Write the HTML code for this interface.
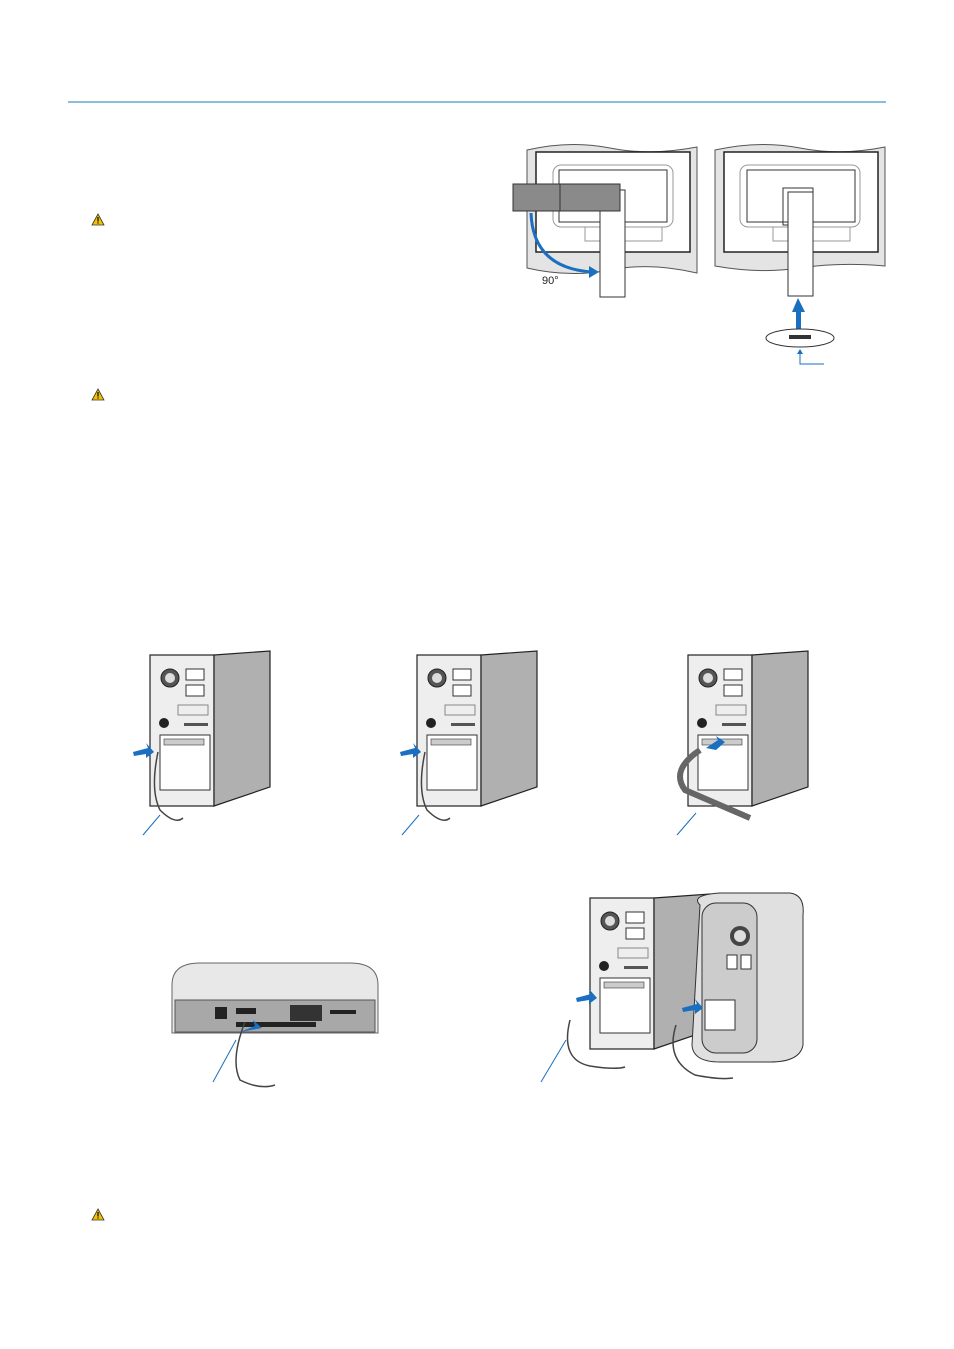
<!DOCTYPE html>
<html><head><meta charset="utf-8"><style>
html,body{margin:0;padding:0;background:#fff;}
body{width:954px;height:1349px;position:relative;overflow:hidden;font-family:"Liberation Sans",sans-serif;}
svg{position:absolute;left:0;top:0;}
</style></head><body>
<svg width="954" height="1349" viewBox="0 0 954 1349" xmlns="http://www.w3.org/2000/svg">
<defs>
<g id="warn"><path d="M0,-6 L6,5 L-6,5 Z" fill="#f2c200" stroke="#333" stroke-width="0.8"/><rect x="-0.6" y="-3" width="1.2" height="4.5" fill="#000"/><rect x="-0.6" y="2.3" width="1.2" height="1.2" fill="#000"/></g>
<g id="tower">
<rect x="0" y="0" width="64" height="151" fill="#eee" stroke="#222" stroke-width="1.2"/>
<path d="M64,0 L120,-4 L120,132 L64,151 Z" fill="#b0b0b0" stroke="#222" stroke-width="1.2"/>
<circle cx="20" cy="23" r="9" fill="#555" stroke="#222"/><circle cx="20" cy="23" r="5" fill="#ddd"/>
<rect x="36" y="14" width="18" height="11" fill="#fff" stroke="#333"/><rect x="36" y="30" width="18" height="11" fill="#fff" stroke="#333"/>
<rect x="28" y="50" width="30" height="10" fill="none" stroke="#888"/>
<circle cx="14" cy="68" r="5" fill="#222"/>
<rect x="34" y="68" width="24" height="3" fill="#555"/>
<rect x="10" y="80" width="50" height="55" fill="#fff" stroke="#333"/>
<rect x="14" y="84" width="40" height="6" fill="#ccc" stroke="#333" stroke-width="0.6"/>
</g>
</defs>
<line x1="68" y1="102" x2="886" y2="102" stroke="#1a7ac0" stroke-width="1"/>
<use href="#warn" x="98" y="220"/><use href="#warn" x="98" y="395"/><use href="#warn" x="98" y="1215"/>

<!-- monitor 1 -->
<path d="M527,150 Q570,140 610,148 T697,147 L697,273 Q650,262 610,270 T527,268 Z" fill="#e4e4e4" stroke="#555"/>
<rect x="536" y="152" width="154" height="100" fill="#fff" stroke="#222" stroke-width="1.5"/>
<rect x="553" y="165" width="120" height="62" rx="8" fill="none" stroke="#999"/>
<rect x="559" y="170" width="108" height="52" fill="none" stroke="#333"/>
<rect x="585" y="227" width="77" height="14" fill="none" stroke="#999"/>
<rect x="600" y="190" width="25" height="107" fill="#fff" stroke="#333"/>
<rect x="513" y="184" width="107" height="27" fill="#8a8a8a" stroke="#333"/>
<line x1="560" y1="184" x2="560" y2="211" stroke="#333"/>
<path d="M531,213 Q533,268 592,272" fill="none" stroke="#1a6fc0" stroke-width="3"/>
<path d="M599,272 L589,266 L589,278 Z" fill="#1a6fc0"/>
<text x="542" y="284" font-size="11" fill="#222">90°</text>
<!-- monitor 2 -->
<path d="M715,150 Q760,140 800,148 T885,147 L885,266 Q840,262 800,268 T715,266 Z" fill="#e4e4e4" stroke="#555"/>
<rect x="724" y="152" width="154" height="100" fill="#fff" stroke="#222" stroke-width="1.5"/>
<rect x="740" y="165" width="120" height="62" rx="8" fill="none" stroke="#999"/>
<rect x="747" y="170" width="108" height="52" fill="none" stroke="#333"/>
<rect x="773" y="227" width="77" height="14" fill="none" stroke="#999"/>
<rect x="783" y="188" width="30" height="37" fill="none" stroke="#333"/>
<rect x="788" y="192" width="25" height="104" fill="#fff" stroke="#333"/>
<rect x="796" y="310" width="5" height="30" fill="#1a6fc0"/><path d="M798,298 L792,312 L805,312 Z" fill="#1a6fc0"/>
<ellipse cx="800" cy="338" rx="34" ry="9" fill="#fff" stroke="#333"/>
<rect x="789" y="335" width="22" height="4" fill="#333"/>
<path d="M800,350 L800,364 L824,364" fill="none" stroke="#1a6fc0"/>
<path d="M800,349 L797,354 L803,354 Z" fill="#1a6fc0"/>

<!-- towers -->
<use href="#tower" x="150" y="655"/>
<use href="#tower" x="417" y="655"/>
<use href="#tower" x="688" y="655"/>
<g fill="none" stroke="#444" stroke-width="1.5">
<path d="M158,752 Q150,790 160,810 Q175,825 183,818"/>
<path d="M425,752 Q417,790 427,810 Q442,825 450,818"/>
<path d="M700,750 Q670,770 685,790 Q720,805 750,818" stroke-width="6" stroke="#666"/>
</g>
<g fill="#1a6fc0"><path d="M133,752 L148,748 L146,743 L154,752 L146,758 L146,754 L134,756 Z"/><path d="M400,752 L415,748 L413,743 L421,752 L413,758 L413,754 L401,756 Z"/><path d="M706,748 L718,740 L716,736 L725,742 L716,750 Z"/></g>
<g stroke="#1a6fc0" stroke-width="1"><line x1="143" y1="835" x2="160" y2="815"/><line x1="402" y1="835" x2="419" y2="815"/><line x1="677" y1="835" x2="696" y2="813"/><line x1="213" y1="1082" x2="236" y2="1040"/><line x1="541" y1="1082" x2="566" y2="1040"/></g>

<!-- mac mini -->
<path d="M172,985 Q172,963 200,963 L350,963 Q378,963 378,985 L378,1033 L172,1033 Z" fill="#e8e8e8" stroke="#666"/>
<rect x="175" y="1000" width="200" height="32" fill="#a8a8a8" stroke="#555"/>
<rect x="215" y="1007" width="12" height="12" fill="#222"/>
<rect x="236" y="1008" width="20" height="6" fill="#222"/><rect x="290" y="1005" width="32" height="16" fill="#333"/>
<rect x="330" y="1010" width="26" height="4" fill="#222"/>
<rect x="236" y="1022" width="80" height="5" fill="#222"/>
<path d="M245,1022 Q230,1060 240,1080 Q260,1090 275,1085" fill="none" stroke="#444" stroke-width="1.5"/>
<path d="M240,1032 L255,1026 L253,1020 L262,1028 Z" fill="#1a6fc0"/>

<!-- bottom right -->
<use href="#tower" x="590" y="898"/>
<path d="M700,905 Q690,895 720,893 L790,893 Q805,895 803,915 L803,1045 Q800,1062 770,1062 L720,1062 Q693,1062 692,1045 Z" fill="#e0e0e0" stroke="#333"/>
<rect x="702" y="903" width="55" height="150" rx="14" fill="#ccc" stroke="#333"/>
<circle cx="740" cy="936" r="10" fill="#444"/><circle cx="740" cy="936" r="6" fill="#ddd"/>
<rect x="727" y="955" width="10" height="14" fill="#fff" stroke="#333"/><rect x="741" y="955" width="10" height="14" fill="#fff" stroke="#333"/>
<rect x="705" y="1000" width="30" height="30" fill="#fff" stroke="#333"/>
<g fill="none" stroke="#444" stroke-width="1.5"><path d="M570,1020 Q560,1060 590,1066 Q615,1070 625,1067"/><path d="M676,1025 Q665,1060 695,1075 Q720,1080 733,1078"/></g>
<path d="M576,998 L591,994 L589,989 L597,998 L589,1004 L589,1000 L577,1002 Z" fill="#1a6fc0"/>
<path d="M682,1008 L697,1004 L695,999 L703,1008 L695,1014 L695,1010 L683,1012 Z" fill="#1a6fc0"/>
</svg>
</body></html>
